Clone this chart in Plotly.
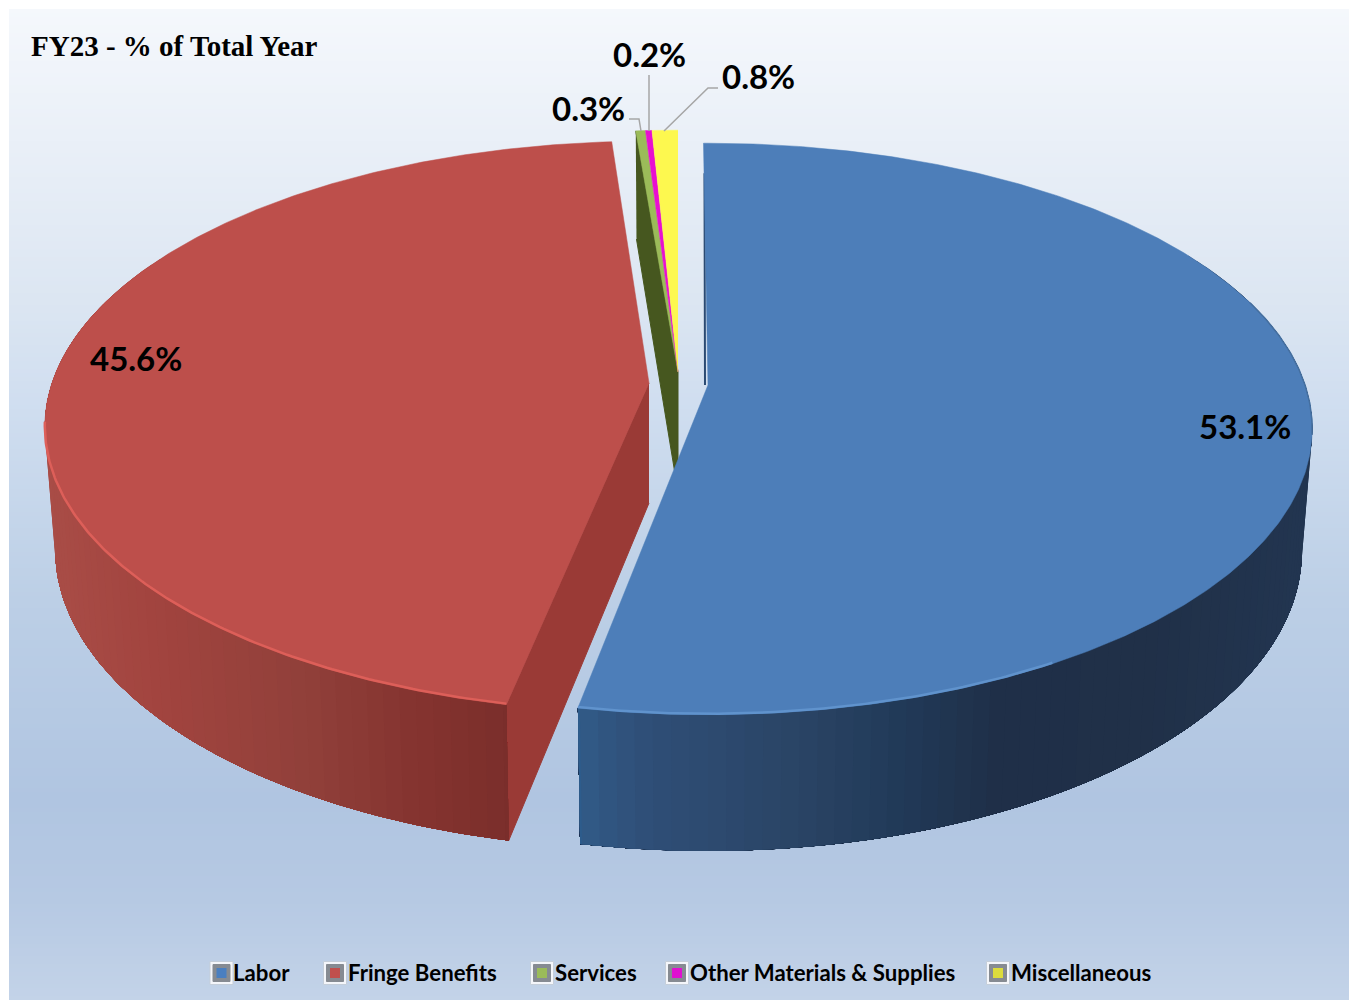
import numpy as np
import plotly.graph_objects as go

# Spending shares, percent of the fiscal year
categories = ["Labor", "Fringe Benefits", "Services", "Other Materials & Supplies", "Miscellaneous"]
shares = [53.1, 45.6, 0.3, 0.2, 0.8]
title_text = "FY23 - % of Total Year"

# Slice colours
top_colors = ["#4d7eb9", "#bd4f4b", "#9bbb59", "#e80fd0", "#fdf84f"]
swatch_colors = ["#4a7fc0", "#c0504d", "#9bbb59", "#e010d0", "#dcdc3c"]

# Perspective pie geometry
PERSPECTIVE = 0.1538
RADIUS_X = 597.0
RADIUS_Y = 279.0
DEPTH = 120.0
BASE_SCALE = 0.983
HUBS = [(708, 385), (649, 383), (678, 372), (678, 372), (678, 372)]
# Exploded slices sit at slightly different apparent rotations
ROTATION = [-0.5, 0.55, 0.0, 0.0, 0.0]

# Background gradient stops (pixel row, colour)
bg_rows = [9, 100, 300, 400, 600, 800, 900, 1000]
bg_colors = ["#f5f8fc", "#edf2f9", "#dce6f2", "#d0def0", "#bccfe6", "#b0c5e1", "#b6c9e3", "#c3d3e8"]


def project(theta_deg, hub, level=0.0):
    """Map an angle on the disc rim to the page; level 0 = top face, 1 = base."""
    t = np.radians(theta_deg)
    u, v = np.sin(t), np.cos(t)
    w = 1 + PERSPECTIVE * v
    s = BASE_SCALE ** level
    return hub[0] + s * RADIUS_X * u / w, hub[1] - s * RADIUS_Y * v / w + level * DEPTH / w


def arc(a, b, hub, level=0.0, step=0.5):
    n = max(2, int(abs(b - a) / step) + 1)
    return project(np.linspace(a, b, n), hub, level)


def hex_rgb(c):
    return np.array([int(c[i:i + 2], 16) for i in (1, 3, 5)], float)


def mix(xs, cs, x):
    rgb = [np.interp(x, xs, [hex_rgb(c)[i] for c in cs]) for i in range(3)]
    return "rgb(%d,%d,%d)" % tuple(int(round(q)) for q in rgb)


fig = go.Figure()


def polygon(x, y, color, edge=None, width=1.0):
    fig.add_trace(go.Scatter(x=list(x), y=list(y), mode="lines", fill="toself", fillcolor=color,
                             line=dict(color=edge or color, width=width), hoverinfo="skip", showlegend=False))


def stroke(x, y, color, width):
    fig.add_trace(go.Scatter(x=list(x), y=list(y), mode="lines", line=dict(color=color, width=width),
                             hoverinfo="skip", showlegend=False))


def outer_wall(start, stop, xs, cs, hub, step=1.5):
    """Shaded curved wall: each band runs on to the far end, so no seams show between bands."""
    sign = 1 if stop > start else -1
    for t in np.arange(start, stop, sign * step):
        xt, yt = arc(t, stop, hub, step=1.0)
        xu, yu = arc(stop, t, hub, 1, step=1.0)
        polygon([*xt, *xu], [*yt, *yu], mix(xs, cs, project(t + sign * step / 2, hub)[0]), width=0)


# Page background
rows = np.linspace(9, 1000, 249)
fig.add_trace(go.Heatmap(
    x=[9, 1349], y=rows, z=[[r] for r in (rows[:-1] + rows[1:]) / 2],
    zmin=9, zmax=1000, showscale=False, hoverinfo="skip",
    colorscale=[[(r - 9) / 991, c] for r, c in zip(bg_rows, bg_colors)],
))

# Slice angles
edges = np.concatenate([[0], np.cumsum(shares)]) * 3.6 / (sum(shares) / 100)
start_deg = edges[:-1] + ROTATION
stop_deg = edges[1:] + ROTATION
LABOR, FRINGE = 0, 1

# Narrow slices: the exposed cut wall, then the top faces
hub = HUBS[2]
x0, y0 = project(start_deg[2], hub)
x1, y1 = project(start_deg[2], hub, 1)
polygon([x0, hub[0], hub[0], x1], [y0, hub[1], hub[1] + DEPTH, y1], "#46571f")
for i in (2, 3, 4):
    ax, ay = arc(start_deg[i], stop_deg[i], HUBS[i], step=0.2)
    polygon([HUBS[i][0], *ax], [HUBS[i][1], *ay], top_colors[i], width=0.5)

# Fringe: cut wall facing the gap, curved outer wall, top face
hub = HUBS[FRINGE]
a = start_deg[FRINGE]
xa, ya = project(a, hub)
xb, yb = project(a, hub, 1)
polygon([hub[0], xa, xb, hub[0]], [hub[1], ya, yb, hub[1] + DEPTH], "#9a3a36")
red_x = [44, 150, 300, 420, 510]
red_c = ["#a94d47", "#a2443f", "#91403a", "#84332f", "#7a2e2b"]
outer_wall(300, a, red_x, red_c, hub)

# Labor: sliver of the far cut wall, curved outer wall, top face
hub = HUBS[LABOR]
b = stop_deg[LABOR]
xf, yf = project(start_deg[LABOR], hub)
polygon([xf + 1, hub[0] - 3, hub[0] - 3, xf + 1], [yf + 30, hub[1], hub[1], yf + 30], "#2b4a72", width=2)
blue_x = [575, 583, 640, 800, 900, 1000, 1150, 1305]
blue_c = ["#2d5c8c", "#315a86", "#2f4f78", "#2a4465", "#213a58", "#1f2f48", "#203048", "#223550"]
outer_wall(60, b, blue_x, blue_c, hub)

for i in (LABOR, FRINGE):
    ax, ay = arc(start_deg[i], stop_deg[i], HUBS[i])
    polygon([HUBS[i][0], *ax, HUBS[i][0]], [HUBS[i][1], *ay, HUBS[i][1]], top_colors[i], width=0.5)

# Bevel highlights along the rims
rx, ry = arc(start_deg[FRINGE], 262, HUBS[FRINGE])
stroke(rx, ry - 1, "#dd5f59", 2.5)
rx, ry = arc(stop_deg[LABOR], 150, HUBS[LABOR])
stroke(rx, ry - 1, "#6093cd", 2.5)
rx, ry = arc(72, 100, HUBS[LABOR])
stroke(rx, ry, "#456f9f", 1.5)

# Leader lines for the small slices
for lx, ly in (([629, 639, 641], [119, 119, 131]),
               ([649, 649], [75, 131]),
               ([718, 708, 664], [88, 88, 131])):
    stroke(lx, ly, "#a6a6a6", 1.5)

# Legend swatches
legend_icon_x = [221.5, 335, 542, 677, 998]
legend_text_x = [231, 346, 553, 688, 1009]
legend_y = 972
icon_y = [973] * len(categories)
for size, colors, line in ((23, ["#f4f6fa"] * 5, "#c5ced9"), (17, ["#868b92"] * 5, "#868b92"), (10, swatch_colors, None)):
    fig.add_trace(go.Scatter(
        x=legend_icon_x, y=icon_y, mode="markers", hoverinfo="skip", showlegend=False,
        marker=dict(symbol="square", size=size, color=colors, line=dict(color=line or "rgba(0,0,0,0)", width=1)),
    ))

annotations = []


def label(text, x, y, size, family="Lato", anchor="center"):
    annotations.append(dict(text=text, x=x, y=y, xref="x", yref="y", showarrow=False, xanchor=anchor, yanchor="middle",
                            font=dict(family=family, size=size, color="#000000")))


# Slice value labels
value_pos = [(1245, 426), (136, 358), (588, 108), (649, 54), (758, 76)]
for v, (vx, vy) in zip(shares, value_pos):
    label(f"<b>{v:.1f}%</b>", vx, vy, 33)

for name, tx in zip(categories, legend_text_x):
    label(f"<b>{name}</b>", tx, legend_y, 22.2, anchor="left")

label(f"<b>{title_text}</b>", 29, 46, 29, family="Liberation Serif", anchor="left")

fig.update_layout(
    width=1351, height=1000, margin=dict(l=0, r=0, t=0, b=0),
    paper_bgcolor="#ffffff", plot_bgcolor="#ffffff", showlegend=False, annotations=annotations,
    xaxis=dict(range=[0, 1351], visible=False, fixedrange=True),
    yaxis=dict(range=[1000, 0], visible=False, fixedrange=True),
)
fig.write_html("out.html", config=dict(displayModeBar=False))
